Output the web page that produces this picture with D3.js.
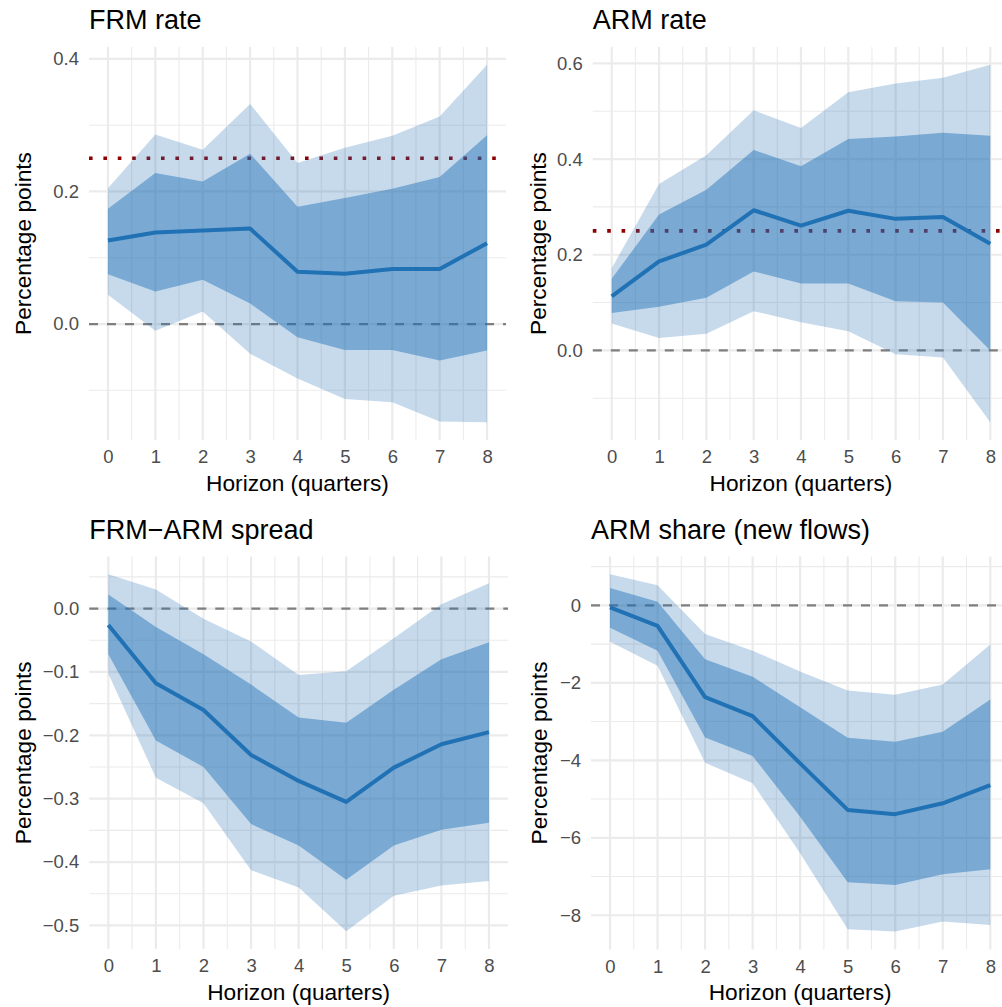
<!DOCTYPE html>
<html>
<head>
<meta charset="utf-8">
<script src="https://cdn.jsdelivr.net/npm/d3@7"></script>
<style>
    body { margin: 0; background: #fff; }
    svg { display: block; font-family: "Liberation Sans", Arial, Helvetica, sans-serif; }
</style>
</head>
<body>
<svg id="chart" width="1002" height="1007"></svg>
<script>
const horizon = [0, 1, 2, 3, 4, 5, 6, 7, 8],
    xTicks = [0, 1, 2, 3, 4, 5, 6, 7, 8];

// FRM rate
const frmEst = [0.126, 0.138, 0.141, 0.144, 0.079, 0.076, 0.083, 0.083, 0.122],
    frmHi95 = [0.205, 0.286, 0.263, 0.332, 0.243, 0.266, 0.284, 0.313, 0.391],
    frmHi68 = [0.174, 0.228, 0.215, 0.257, 0.177, 0.190, 0.204, 0.222, 0.285],
    frmLo68 = [0.075, 0.049, 0.067, 0.031, -0.020, -0.039, -0.039, -0.055, -0.040],
    frmLo95 = [0.044, -0.010, 0.019, -0.045, -0.082, -0.113, -0.118, -0.147, -0.148],
    frmTicks = [0, 0.2, 0.4];

// ARM rate
const armEst = [0.113, 0.186, 0.221, 0.293, 0.261, 0.292, 0.275, 0.279, 0.223],
    armHi95 = [0.172, 0.348, 0.408, 0.502, 0.465, 0.540, 0.558, 0.570, 0.597],
    armHi68 = [0.150, 0.284, 0.336, 0.419, 0.385, 0.442, 0.447, 0.455, 0.449],
    armLo68 = [0.078, 0.091, 0.110, 0.165, 0.140, 0.140, 0.103, 0.100, 0.000],
    armLo95 = [0.056, 0.026, 0.035, 0.082, 0.059, 0.040, -0.008, -0.015, -0.150],
    armTicks = [0, 0.2, 0.4, 0.6];

// FRM-ARM spread
const spreadEst = [-0.026, -0.118, -0.160, -0.231, -0.272, -0.305, -0.251, -0.214, -0.195],
    spreadHi95 = [0.054, 0.030, -0.016, -0.052, -0.105, -0.099, -0.047, 0.007, 0.040],
    spreadHi68 = [0.022, -0.029, -0.072, -0.120, -0.172, -0.180, -0.128, -0.080, -0.053],
    spreadLo68 = [-0.072, -0.208, -0.250, -0.340, -0.374, -0.428, -0.374, -0.349, -0.338],
    spreadLo95 = [-0.103, -0.267, -0.307, -0.413, -0.440, -0.509, -0.453, -0.437, -0.430],
    spreadTicks = [-0.5, -0.4, -0.3, -0.2, -0.1, 0];

// ARM share of new flows
const shareEst = [-0.05, -0.53, -2.37, -2.86, -4.08, -5.28, -5.39, -5.11, -4.64],
    shareHi95 = [0.80, 0.52, -0.74, -1.17, -1.71, -2.20, -2.31, -2.04, -1.01],
    shareHi68 = [0.45, 0.09, -1.39, -1.84, -2.63, -3.42, -3.52, -3.26, -2.43],
    shareLo68 = [-0.58, -1.17, -3.41, -3.89, -5.46, -7.15, -7.22, -6.94, -6.81],
    shareLo95 = [-0.94, -1.56, -4.06, -4.59, -6.40, -8.36, -8.42, -8.16, -8.25],
    shareTicks = [-8, -6, -4, -2, 0];

const BLUE = "#2171b5",
    GRID = "#ebebeb",
    minus = (s) => s.replace("-", "\u2212");

const panels = [
    {title: "FRM rate", est: frmEst, hi95: frmHi95, hi68: frmHi68, lo68: frmLo68, lo95: frmLo95,
        ticks: frmTicks, fmt: d3.format(".1f"), target: 0.25,
        box: {left: 89, right: 506, top: 47, bottom: 440}, yTitleX: 30.5},
    {title: "ARM rate", est: armEst, hi95: armHi95, hi68: armHi68, lo68: armLo68, lo95: armLo95,
        ticks: armTicks, fmt: d3.format(".1f"), target: 0.25,
        box: {left: 592.8, right: 1009.2, top: 47, bottom: 440}, yTitleX: 546},
    {title: "FRM\u2212ARM spread", est: spreadEst, hi95: spreadHi95, hi68: spreadHi68, lo68: spreadLo68, lo95: spreadLo95,
        ticks: spreadTicks, fmt: d3.format(".1f"), target: null,
        box: {left: 89.3, right: 508, top: 556.5, bottom: 949}, yTitleX: 30.5},
    {title: "ARM share (new flows)", est: shareEst, hi95: shareHi95, hi68: shareHi68, lo68: shareLo68, lo95: shareLo95,
        ticks: shareTicks, fmt: d3.format("d"), target: null,
        box: {left: 591, right: 1009.3, top: 556.5, bottom: 949.4}, yTitleX: 546.5}
];

const svg = d3.select("#chart");
svg.append("rect").attr("width", 1002).attr("height", 1007).attr("fill", "#fff");

for(const p of panels) {
    const b = p.box,
        g = svg.append("g");

    // ggplot style 5% expansion on both axes
    const x = d3.scaleLinear().domain([-0.4, 8.4]).range([b.left, b.right]);
    const vals = [...p.hi95, ...p.lo95, 0].concat(p.target === null ? [] : [p.target]);
    const [lo, hi] = d3.extent(vals),
        pad = (hi - lo) * 0.05;
    const y = d3.scaleLinear().domain([lo - pad, hi + pad]).range([b.bottom, b.top]);

    const step = p.ticks[1] - p.ticks[0],
        yMinor = d3.range(p.ticks[0] - step / 2, p.ticks[p.ticks.length - 1] + step, step)
            .filter((v) => v >= y.domain()[0] && v <= y.domain()[1]),
        yMajor = p.ticks.filter((v) => v >= y.domain()[0] && v <= y.domain()[1]),
        xMinor = d3.range(0.5, 8, 1);

    // minor grid then major grid
    g.append("g").selectAll("line").data(yMinor).join("line")
        .attr("x1", b.left).attr("x2", b.right)
        .attr("y1", (d) => y(d)).attr("y2", (d) => y(d))
        .attr("stroke", GRID).attr("stroke-width", 1.1);
    g.append("g").selectAll("line").data(xMinor).join("line")
        .attr("y1", b.top).attr("y2", b.bottom)
        .attr("x1", (d) => x(d)).attr("x2", (d) => x(d))
        .attr("stroke", GRID).attr("stroke-width", 1.1);
    g.append("g").selectAll("line").data(yMajor).join("line")
        .attr("x1", b.left).attr("x2", b.right)
        .attr("y1", (d) => y(d)).attr("y2", (d) => y(d))
        .attr("stroke", GRID).attr("stroke-width", 2.2);
    g.append("g").selectAll("line").data(xTicks).join("line")
        .attr("y1", b.top).attr("y2", b.bottom)
        .attr("x1", (d) => x(d)).attr("x2", (d) => x(d))
        .attr("stroke", GRID).attr("stroke-width", 2.2);

    // reference lines sit under the ribbons
    g.append("line")
        .attr("x1", b.left).attr("x2", b.right)
        .attr("y1", y(0)).attr("y2", y(0))
        .attr("stroke", "#7f7f7f")
        .attr("stroke-width", 2.3)
        .attr("stroke-dasharray", "9 9");
    if(p.target !== null) {
        g.append("line")
            .attr("x1", b.left).attr("x2", b.right)
            .attr("y1", y(p.target)).attr("y2", y(p.target))
            .attr("stroke", "#8b0000")
            .attr("stroke-width", 3.6)
            .attr("stroke-dasharray", "3.6 10.8");
    }

    const band = (loArr, hiArr) => d3.area()
        .x((d) => x(d))
        .y0((d, i) => y(loArr[i]))
        .y1((d, i) => y(hiArr[i]));

    g.append("path")
        .datum(horizon)
        .attr("fill", BLUE)
        .attr("fill-opacity", 0.26)
        .attr("d", band(p.lo95, p.hi95));
    g.append("path")
        .datum(horizon)
        .attr("fill", BLUE)
        .attr("fill-opacity", 0.46)
        .attr("d", band(p.lo68, p.hi68));

    g.append("path")
        .datum(horizon)
        .attr("fill", "none")
        .attr("stroke", BLUE)
        .attr("stroke-width", 4)
        .attr("stroke-linejoin", "round")
        .attr("d", d3.line().x((d) => x(d)).y((d, i) => y(p.est[i])));

    // axes text
    const yAxis = d3.axisLeft(y).tickValues(yMajor).tickSize(0).tickPadding(10)
        .tickFormat((d) => minus(p.fmt(d)));
    g.append("g")
        .attr("transform", `translate(${b.left},0)`)
        .call(yAxis)
        .call((s) => s.select(".domain").remove())
        .call((s) => s.selectAll("text")
            .attr("fill", "#4d4d4d")
            .attr("font-size", 18.5)
            .attr("font-family", null));

    const xAxis = d3.axisBottom(x).tickValues(xTicks).tickSize(0).tickPadding(10);
    g.append("g")
        .attr("transform", `translate(0,${b.bottom})`)
        .call(xAxis)
        .call((s) => s.select(".domain").remove())
        .call((s) => s.selectAll("text")
            .attr("fill", "#4d4d4d")
            .attr("font-size", 18.5)
            .attr("font-family", null));

    g.append("text")
        .attr("x", (b.left + b.right) / 2)
        .attr("y", b.bottom + 51)
        .attr("text-anchor", "middle")
        .attr("font-size", 22.7)
        .text("Horizon (quarters)");

    g.append("text")
        .attr("transform", `translate(${p.yTitleX},${(b.top + b.bottom) / 2}) rotate(-90)`)
        .attr("text-anchor", "middle")
        .attr("font-size", 22.7)
        .text("Percentage points");

    g.append("text")
        .attr("x", b.left)
        .attr("y", b.top - 17.7)
        .attr("font-size", 27)
        .text(p.title);
}
</script>
</body>
</html>
